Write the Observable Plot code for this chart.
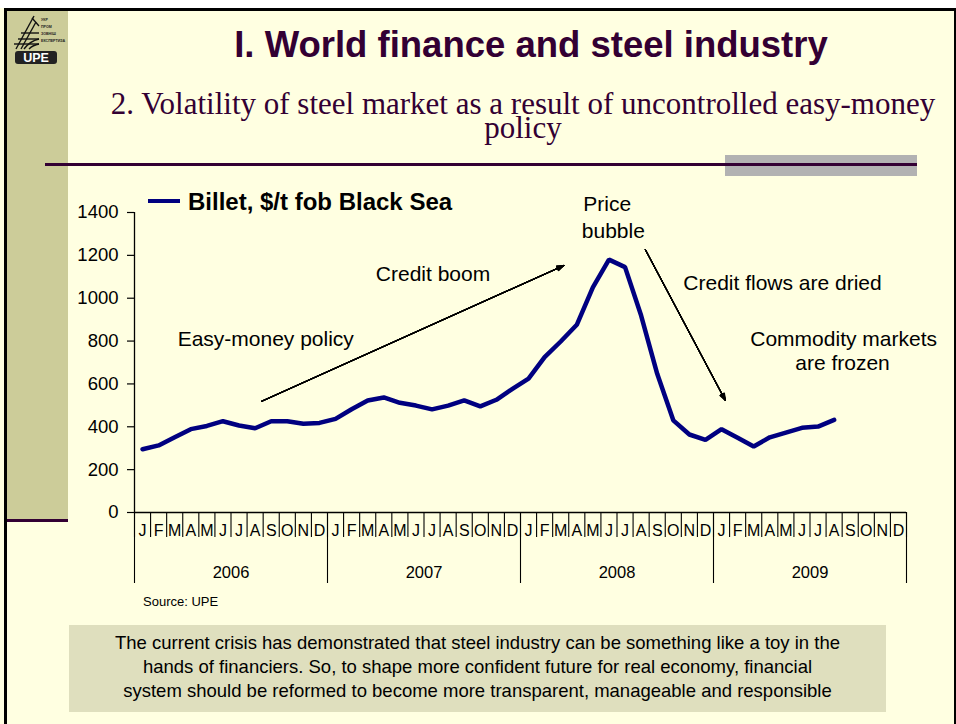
<!DOCTYPE html>
<html>
<head>
<meta charset="utf-8">
<script src="https://cdn.jsdelivr.net/npm/d3@7"></script>
<script src="https://cdn.jsdelivr.net/npm/@observablehq/plot@0.6"></script>
<style>
html, body { margin: 0; padding: 0; background: #fff; overflow: hidden; }
#slide { position: relative; width: 956px; height: 724px; background: #FFFFE1; overflow: hidden;
  font-family: "Liberation Sans", Arial, sans-serif; }
.abs { position: absolute; }
#title { left: 106px; width: 850px; top: 25px; text-align: center; font-weight: bold; font-size: 36.5px;
  line-height: 40px; color: #330033; white-space: nowrap; }
.sub { left: 60px; width: 926px; text-align: center; font-family: "Liberation Serif", "Times New Roman", serif;
  font-size: 31px; line-height: 24px; height: 24px; color: #330033; white-space: nowrap; }
#legend-swatch { left: 148px; top: 199px; width: 32px; height: 4px; background: #000080; }
#legend-text { left: 188px; top: 188px; font-weight: bold; font-size: 24px; line-height: 28px; color: #000; white-space: nowrap; }
#source { left: 143px; top: 594px; font-size: 13px; line-height: 15px; color: #000; }
#note { left: 69px; top: 625px; width: 817px; height: 87px; background: #DFDFBE; text-align: center;
  font-size: 18.5px; line-height: 24px; color: #000; box-sizing: border-box; padding-top: 6px; }
</style>
</head>
<body>
<div id="slide">
  <div class="abs" style="left:0;top:0;width:956px;height:8px;background:#fff"></div>
  <div class="abs" style="left:4px;top:8px;width:952px;height:3px;background:#000"></div>
  <div class="abs" style="left:4px;top:8px;width:3px;height:716px;background:#000"></div>
  <div class="abs" style="left:954px;top:8px;width:2px;height:716px;background:#000"></div>
  <div class="abs" style="left:7px;top:11px;width:61px;height:508px;background:#CCCC99"></div>
  <div class="abs" style="left:7px;top:519px;width:61px;height:3px;background:#330033"></div>
  <div class="abs" style="left:725px;top:155px;width:192px;height:21px;background:#B2B2B2"></div>
  <div class="abs" style="left:45px;top:163px;width:872px;height:3px;background:#330033"></div>
  <svg class="abs" style="left:12px;top:13px" width="56" height="52" viewBox="0 0 56 52">
    <g stroke="#111" stroke-width="1.4" fill="none">
      <path d="M4,36 L22,3"/><path d="M9,36 L24,9"/>
      <path d="M6,26 L27,26"/><path d="M9,20 L27,20"/><path d="M2,31 L27,31"/>
      <path d="M12,36 Q18,28 27,26"/><path d="M17,36 Q21,32 27,31"/>
      <path d="M20,5 L27,13"/>
    </g>
    <g font-family="Liberation Sans, Arial" font-size="3.6" font-weight="bold" fill="#222">
      <text x="29" y="8">УКР</text><text x="29" y="15">ПРОМ</text><text x="29" y="22">ЗОВНІШ</text><text x="29" y="29">ЕКСПЕРТИЗА</text>
    </g>
    <rect x="3" y="38" width="42" height="13" rx="3" fill="#222"/>
    <text x="24" y="49" text-anchor="middle" font-family="Liberation Sans, Arial" font-weight="bold" font-size="12.5" fill="#fff">UPE</text>
  </svg>
  <div id="title" class="abs">I. World finance and steel industry</div>
  <div class="abs sub" style="top:92px">2. Volatility of steel market as a result of uncontrolled easy-money</div>
  <div class="abs sub" style="top:116px">policy</div>
  <div id="chart" class="abs" style="left:0;top:180px"></div>
  <div id="legend-swatch" class="abs"></div>
  <div id="legend-text" class="abs">Billet, $/t fob Black Sea</div>
  <div id="source" class="abs">Source: UPE</div>
  <div id="note" class="abs">The current crisis has demonstrated that steel industry can be something like a toy in the<br>hands of financiers. So, to shape more confident future for real economy, financial<br>system should be reformed to become more transparent, manageable and responsible</div>
</div>
<script>
// ---- data ----
const monthLetters = ["J","F","M","A","M","J","J","A","S","O","N","D"];
const years = ["2006","2007","2008","2009"];
// Billet price, $/t fob Black Sea, monthly from Jan 2006 to Aug 2009
const billet = [
  295, 313, 351, 389, 404, 426, 406, 393, 426, 426, 414, 418,
  437, 482, 523, 537, 512, 499, 481, 499, 523, 495, 526, 577,
  625, 725, 798, 876, 1051, 1180, 1145, 919, 647, 430, 364, 339,
  389, 349, 308, 351, 373, 395, 401, 432
];
const yTicks = [0, 200, 400, 600, 800, 1000, 1200, 1400];
// annotations (month index, value)
const noteLines = ["Easy-money policy", "Credit boom", "Price", "bubble", "Credit flows are dried", "Commodity markets", "are frozen"];
const noteMonth = [7.66, 18.06, 28.89, 29.27, 39.79, 43.59, 43.52];
const noteValue = [807, 1110, 1440, 1314, 1071, 807, 695];
const arrowFromMonth = [7.41, 31.26];
const arrowFromValue = [519, 1227];
const arrowToMonth = [26.2, 36.24];
const arrowToValue = [1153, 523];

// ---- derived tables ----
const series = billet.map((v, i) => ({i, v}));
const notes = noteLines.map((t, k) => ({t, x: noteMonth[k], y: noteValue[k]}));
const arrows = arrowFromMonth.map((x1, k) => ({x1, y1: arrowFromValue[k], x2: arrowToMonth[k], y2: arrowToValue[k]}));
const nMonths = years.length * 12;
const monthIdx = d3.range(nMonths);
const monthBounds = d3.range(nMonths + 1).map(i => i - 0.5);
const yearBounds = d3.range(years.length + 1).map(k => k * 12 - 0.5);
const yearMid = years.map((y, k) => k * 12 + 5.5);

const headMarks = d3.range(6, 44, 5).map(a =>
  Plot.arrow(arrows, {x1: "x1", y1: "y1", x2: "x2", y2: "y2", stroke: "#000", strokeWidth: 1.1, headLength: 10, headAngle: a})
);

const plot = Plot.plot({
  width: 956, height: 440,
  marginTop: 32, marginBottom: 108, marginLeft: 134, marginRight: 50,
  x: {domain: [-0.5, nMonths - 0.5]},
  y: {domain: [0, 1400]},
  style: {background: "transparent", color: "#000", fontFamily: "Liberation Sans, Arial, sans-serif", fontSize: "15px", overflow: "visible"},
  marks: [
    Plot.ruleY([0], {stroke: "#000", strokeWidth: 1.3}),
    Plot.ruleX([-0.5], {stroke: "#000", strokeWidth: 1.3}),
    Plot.axisY({ticks: yTicks, tickSize: 7, tickPadding: 9, tickFormat: d => String(d), fontSize: 18.5, label: null, strokeWidth: 1.2}),
    Plot.axisX({ticks: monthBounds, tickSize: 25, tickFormat: () => "", label: null, strokeWidth: 1.1}),
    Plot.axisX({ticks: yearBounds, tickSize: 71, tickFormat: () => "", label: null, strokeWidth: 1.1}),
    Plot.axisX({ticks: monthIdx, tickSize: 0, tickPadding: 12, tickFormat: i => monthLetters[i % 12], fontSize: 16, label: null}),
    Plot.axisX({ticks: yearMid, tickSize: 0, tickPadding: 54, tickFormat: d => years[yearMid.indexOf(d)], fontSize: 16.5, label: null}),
    ...headMarks,
    Plot.line(series, {x: "i", y: "v", stroke: "#000080", strokeWidth: 4.5, strokeLinejoin: "miter"}),
    Plot.text(notes, {x: "x", y: "y", text: "t", fontSize: 21, fill: "#000", lineAnchor: "middle"})
  ]
});
document.getElementById("chart").appendChild(plot);
</script>
</body>
</html>
